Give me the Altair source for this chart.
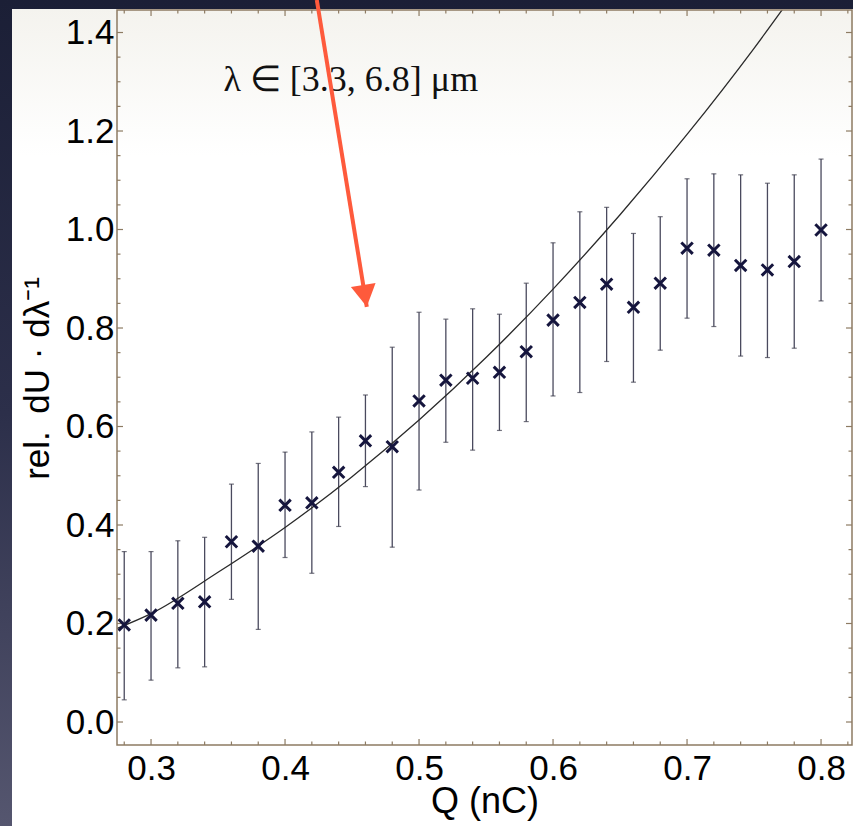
import altair as alt
import pandas as pd

# Measured relative spectral energy versus bunch charge
q = [0.28, 0.30, 0.32, 0.34, 0.36, 0.38, 0.40, 0.42, 0.44, 0.46, 0.48, 0.50, 0.52, 0.54,
     0.56, 0.58, 0.60, 0.62, 0.64, 0.66, 0.68, 0.70, 0.72, 0.74, 0.76, 0.78, 0.80]
u = [0.197, 0.217, 0.241, 0.244, 0.366, 0.357, 0.440, 0.445, 0.507, 0.571, 0.559, 0.652, 0.694, 0.698,
     0.710, 0.752, 0.816, 0.852, 0.889, 0.842, 0.891, 0.962, 0.958, 0.927, 0.918, 0.935, 0.999]
u_lo = [0.045, 0.085, 0.110, 0.112, 0.249, 0.188, 0.334, 0.302, 0.397, 0.478, 0.355, 0.471, 0.568, 0.552,
        0.592, 0.610, 0.662, 0.669, 0.732, 0.690, 0.755, 0.820, 0.803, 0.743, 0.740, 0.759, 0.855]
u_hi = [0.346, 0.346, 0.368, 0.375, 0.483, 0.525, 0.548, 0.589, 0.619, 0.664, 0.761, 0.832, 0.818, 0.839,
        0.828, 0.891, 0.973, 1.036, 1.045, 0.992, 1.026, 1.103, 1.113, 1.111, 1.094, 1.111, 1.143]

# Fitted curve
fit_q = [0.2746, 0.30, 0.35, 0.40, 0.45, 0.50, 0.55, 0.60, 0.65, 0.70, 0.75, 0.78]
fit_u = [0.190, 0.220, 0.304, 0.395, 0.498, 0.613, 0.740, 0.879, 1.030, 1.193, 1.368, 1.480]

# Frame ticks
x_major = [0.3, 0.4, 0.5, 0.6, 0.7, 0.8]
x_minor = [0.28, 0.32, 0.34, 0.36, 0.38, 0.42, 0.44, 0.46, 0.48, 0.52, 0.54, 0.56, 0.58,
           0.62, 0.64, 0.66, 0.68, 0.72, 0.74, 0.76, 0.78, 0.82]
y_major = [0.0, 0.2, 0.4, 0.6, 0.8, 1.0, 1.2, 1.4]
y_minor = [0.05, 0.10, 0.15, 0.25, 0.30, 0.35, 0.45, 0.50, 0.55, 0.65, 0.70, 0.75,
           0.85, 0.90, 0.95, 1.05, 1.10, 1.15, 1.25, 1.30, 1.35]

# Annotation and arrow
label_text = ["λ ∈ [3.3, 6.8] μm"]
label_q = [0.354]
label_u = [1.304]
arrow_q = [0.4237]
arrow_u = [1.466]
arrow_tip_q = [0.461]
arrow_tip_u = [0.843]

W, H = 735, 735
FRAME = "#8d7b63"
INK = "#15153d"

x_scale = alt.Scale(domain=[0.2746, 0.8231], nice=False, zero=False)
y_scale = alt.Scale(domain=[-0.0467, 1.4457], nice=False, zero=False)

x_axis = alt.Axis(
    values=x_major, format=".1f", title="Q (nC)", grid=False, ticks=False, domain=False, zindex=2,
    labelFont="Liberation Sans", labelFontSize=35, labelColor="black", labelPadding=6,
    titleFont="Liberation Sans", titleFontSize=36, titleFontWeight="normal", titleColor="black",
    titleBaseline="alphabetic", titleY=67,
)
y_axis = alt.Axis(
    values=y_major, format=".1f", title="rel.\u2002dU · dλ⁻¹", grid=False, ticks=False,
    domain=False, zindex=2,
    labelFont="Liberation Sans", labelFontSize=35, labelColor="black", labelPadding=3,
    titleFont="Liberation Sans", titleFontSize=35, titleFontWeight="normal", titleColor="black",
    titleAngle=-90, titleBaseline="middle", titleAlign="center", titleX=-80, titleY=368,
)


def X(field="q"):
    return alt.X(f"{field}:Q", scale=x_scale, axis=x_axis)


def Y(field="u"):
    return alt.Y(f"{field}:Q", scale=y_scale, axis=y_axis)


one = pd.DataFrame({"k": [0]})

# Slide background behind the figure panel
backdrop = alt.Chart(one).mark_rect(
    clip=False,
    color=alt.Gradient(gradient="linear", x1=0, x2=0, y1=0, y2=1,
                       stops=[alt.GradientStop(offset=0, color="#1b1f36"),
                              alt.GradientStop(offset=0.5, color="#2c2f4a"),
                              alt.GradientStop(offset=1, color="#55566f")]),
).encode(x=alt.value(-117), x2=alt.value(W + 1), y=alt.value(-10), y2=alt.value(H + 81))

panel = alt.Chart(one).mark_rect(
    clip=False,
    color=alt.Gradient(gradient="linear", x1=0, x2=0, y1=0, y2=1,
                       stops=[alt.GradientStop(offset=0, color="#f4f3ee"),
                              alt.GradientStop(offset=0.18, color="#ffffff"),
                              alt.GradientStop(offset=1, color="#ffffff")]),
).encode(x=alt.value(-105), x2=alt.value(W + 1), y=alt.value(-1), y2=alt.value(H + 81))

frame = alt.Chart(one).mark_rect(fillOpacity=0, stroke=FRAME, strokeWidth=1.5).encode(
    x=alt.value(0), x2=alt.value(W), y=alt.value(0), y2=alt.value(H)
)

xmaj = pd.DataFrame({"q": x_major})
xmin = pd.DataFrame({"q": x_minor})
ymaj = pd.DataFrame({"u": y_major})
ymin = pd.DataFrame({"u": y_minor})

tick_style = dict(color=FRAME, strokeWidth=1.2)
ticks = [
    alt.Chart(xmaj).mark_rule(**tick_style).encode(x=X(), y=alt.value(H), y2=alt.value(H - 6)),
    alt.Chart(xmin).mark_rule(**tick_style).encode(x=X(), y=alt.value(H), y2=alt.value(H - 3.5)),
    alt.Chart(xmaj).mark_rule(**tick_style).encode(x=X(), y=alt.value(0), y2=alt.value(6)),
    alt.Chart(xmin).mark_rule(**tick_style).encode(x=X(), y=alt.value(0), y2=alt.value(3.5)),
    alt.Chart(ymaj).mark_rule(**tick_style).encode(y=Y(), x=alt.value(0), x2=alt.value(6)),
    alt.Chart(ymin).mark_rule(**tick_style).encode(y=Y(), x=alt.value(0), x2=alt.value(3.5)),
    alt.Chart(ymaj).mark_rule(**tick_style).encode(y=Y(), x=alt.value(W), x2=alt.value(W - 6)),
    alt.Chart(ymin).mark_rule(**tick_style).encode(y=Y(), x=alt.value(W), x2=alt.value(W - 3.5)),
]

pts = pd.DataFrame({"q": q, "u": u, "lo": u_lo, "hi": u_hi})

bars = alt.Chart(pts).mark_rule(color="#4a4a5e", strokeWidth=1.3).encode(
    x=X(), y=Y("lo"), y2="hi:Q"
)
caps_lo = alt.Chart(pts).mark_tick(color="#3a3a4a", orient="horizontal", size=5, thickness=1.2).encode(
    x=X(), y=Y("lo")
)
caps_hi = alt.Chart(pts).mark_tick(color="#3a3a4a", orient="horizontal", size=5, thickness=1.2).encode(
    x=X(), y=Y("hi")
)

fit = alt.Chart(pd.DataFrame({"q": fit_q, "u": fit_u})).mark_line(
    color="#2a2a2a", strokeWidth=1.3, interpolate="monotone", clip=True
).encode(x=X(), y=Y())

markers = alt.Chart(pts).mark_point(
    shape="M-1,-1L1,1M-1,1L1,-1", size=130, filled=False, stroke=INK, strokeWidth=3, opacity=1
).encode(x=X(), y=Y())

note = alt.Chart(pd.DataFrame({"q": label_q, "u": label_u, "t": label_text})).mark_text(
    font="Liberation Serif", fontSize=36, color="#111111", align="left", baseline="middle"
).encode(x=X(), y=Y(), text="t:N")

arrow_df = pd.DataFrame({"q": arrow_q, "u": arrow_u, "q2": arrow_tip_q, "u2": arrow_tip_u})
arrow_line = alt.Chart(arrow_df).mark_rule(color="#fe5a3c", strokeWidth=4, clip=False).encode(
    x=X(), y=Y(), x2="q2:Q", y2="u2:Q"
)
arrow_head = alt.Chart(pd.DataFrame({"q": arrow_tip_q, "u": arrow_tip_u})).mark_point(
    shape="M0,0L-1,-1.76L1,-1.76Z", size=625, filled=True, color="#fe5a3c", opacity=1, angle=350.75
).encode(x=X(), y=Y())

chart = alt.layer(
    backdrop, panel, *ticks, bars, caps_lo, caps_hi, fit, markers, note, frame, arrow_line, arrow_head
).properties(
    width=W, height=H,
    autosize=alt.AutoSizeParams(type="none"),
    padding={"left": 117, "top": 10, "right": 1, "bottom": 81},
    background="#1e2238",
).configure_view(stroke=None)

chart.save("out.html", embed_options={"renderer": "svg", "actions": False})
